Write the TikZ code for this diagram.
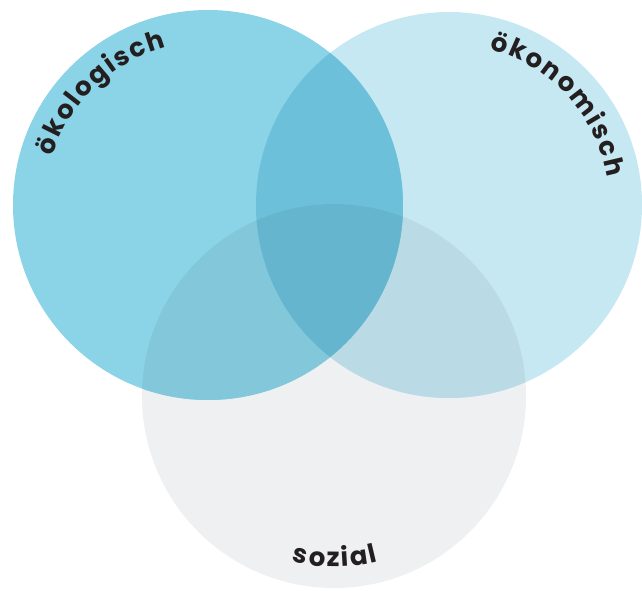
\documentclass[tikz,border=0pt]{standalone}
\usepackage{fontspec}
\setmainfont{Poppins}
\usetikzlibrary{decorations.text}
\definecolor{ecoL}{RGB}{139,211,230}
\definecolor{ecoR}{RGB}{198,232,242}
\definecolor{soc}{RGB}{239,240,242}
\definecolor{cLR}{RGB}{108,192,218}
\definecolor{cLB}{RGB}{130,199,218}
\definecolor{cRB}{RGB}{186,218,230}
\definecolor{cLRB}{RGB}{101,181,207}
\definecolor{txt}{RGB}{35,31,32}
\tikzset{
  curvedlabel/.style={decorate, decoration={text along path, text align=center,
    text={|\bfseries\fontsize{26}{30}\selectfont\color{txt}\kern2pt|#1}}}
}
\begin{document}
\begin{tikzpicture}[x=1pt,y=1pt]
\useasboundingbox (0,0) rectangle (642,590);
\coordinate (L) at (208,385);
\coordinate (R) at (449,385);
\coordinate (B) at (334,194);
\def\rL{195}
\def\rR{193}
\def\rB{192}
\fill[soc] (B) circle[radius=\rB];
\fill[ecoR] (R) circle[radius=\rR];
\begin{scope}
  \clip (R) circle[radius=\rR];
  \fill[cRB] (B) circle[radius=\rB];
\end{scope}
\fill[ecoL] (L) circle[radius=\rL];
\begin{scope}
  \clip (L) circle[radius=\rL];
  \fill[cLR] (R) circle[radius=\rR];
  \fill[cLB] (B) circle[radius=\rB];
  \clip (R) circle[radius=\rR];
  \fill[cLRB] (B) circle[radius=\rB];
\end{scope}
\path[curvedlabel={ökologisch}] ([shift={(L)}]184:163) arc[start angle=184, end angle=84, radius=163];
\path[curvedlabel={ökonomisch}] ([shift={(R)}]93:161) arc[start angle=93, end angle=-7, radius=161];
\path[curvedlabel={sozial}] ([shift={(B)}]245:171) arc[start angle=245, end angle=295, radius=171];
\end{tikzpicture}
\end{document}
